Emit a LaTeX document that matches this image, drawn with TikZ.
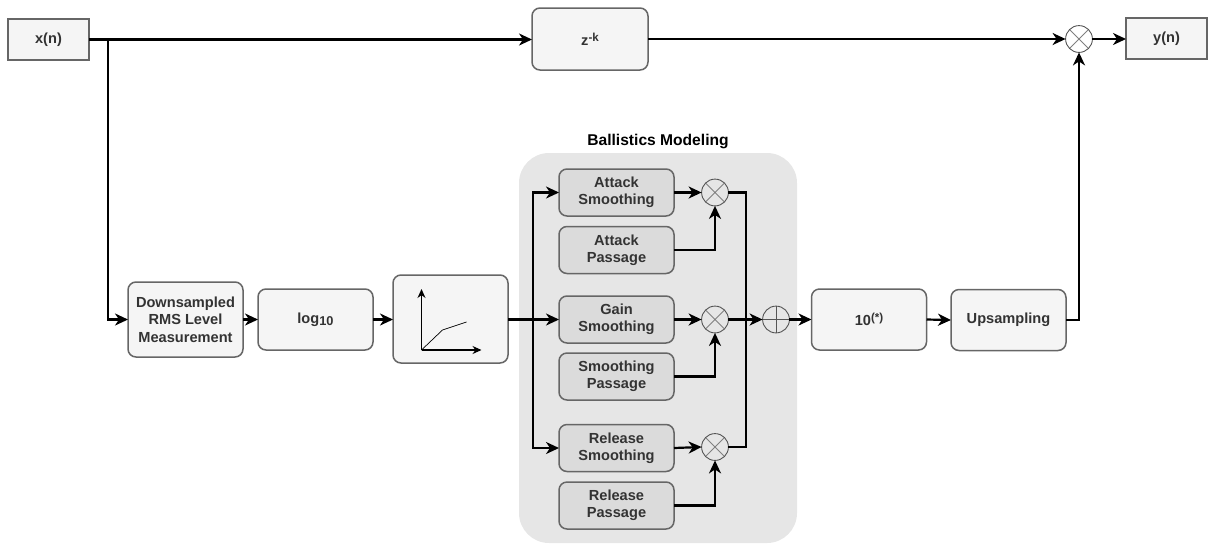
\documentclass[tikz,border=0pt]{standalone}
\usepackage{fontspec}
\setmainfont{Liberation Sans}
\usetikzlibrary{arrows.meta,calc}

\definecolor{boxline}{HTML}{666666}
\definecolor{boxfill}{HTML}{F5F5F5}
\definecolor{innerfill}{HTML}{DBDBDB}
\definecolor{panelfill}{HTML}{E6E6E6}
\definecolor{txt}{HTML}{333333}
\definecolor{opline}{HTML}{555555}

\newcommand{\lbl}{\fontsize{7.3}{8.7}\selectfont\bfseries}
\newcommand{\titlefont}{\fontsize{7.8}{9}\selectfont\bfseries}
\newcommand{\supsc}[1]{\raisebox{0.55ex}{\fontsize{5.8}{6}\selectfont #1}}
\newcommand{\subsc}[1]{\raisebox{-0.35ex}{\fontsize{6.4}{7}\selectfont #1}}

\tikzset{
  base/.style={draw=boxline, line width=0.75pt, fill=boxfill, text=txt,
    font=\lbl, align=center, inner sep=0pt, outer sep=0pt},
  iobox/.style={base, rectangle, minimum width=40.5pt, minimum height=20.5pt},
  blk/.style={base, rounded corners=4pt, minimum width=57.5pt, minimum height=30.5pt},
  innerblk/.style={blk, fill=innerfill, minimum height=23.5pt},
  op/.style={circle, draw=opline, line width=0.45pt, minimum size=13.4pt,
    inner sep=0pt, outer sep=0pt},
  mult/.style={op, path picture={
      \draw[opline!75, line width=0.4pt]
        ($(path picture bounding box.center)+(45:6.7pt)$) --
        ($(path picture bounding box.center)+(225:6.7pt)$)
        ($(path picture bounding box.center)+(135:6.7pt)$) --
        ($(path picture bounding box.center)+(315:6.7pt)$);}},
  summ/.style={op, path picture={
      \draw[opline, line width=0.5pt]
        ($(path picture bounding box.center)+(0:6.7pt)$) --
        ($(path picture bounding box.center)+(180:6.7pt)$)
        ($(path picture bounding box.center)+(90:6.7pt)$) --
        ($(path picture bounding box.center)+(270:6.7pt)$);}},
  wire/.style={line width=1.1pt, black},
  arr/.style={wire, -{Stealth[length=6.5pt,width=6pt,inset=2pt]}},
}

\begin{document}
\begin{tikzpicture}[x=0.5pt, y=-0.5pt]
  \useasboundingbox (0,0) rectangle (1209,547);

  % ballistics panel
  \fill[panelfill, rounded corners=15pt] (519,153) rectangle (797,543);
  \node[font=\titlefont, text=black] (title) at (658,141) {Ballistics Modeling};

  % top path
  \node[iobox] (xn) at (48.5,39.5) {x(n)};
  \node[blk, minimum width=58pt, minimum height=31pt] (zk) at (590,39) {z\supsc{-k}};
  \node[mult] (mtop) at (1079,39) {};
  \node[iobox] (yn) at (1166.5,38.5) {y(n)};

  % bottom chain
  \node[blk, minimum height=37.5pt] (ds) at (185.5,319.5) {Downsampled\\RMS Level\\Measurement};
  \node[blk] (lg) at (315.5,319.5) {log\subsc{10}};
  \node[blk, minimum height=44pt] (gr) at (450.5,319) {};
  \node[blk] (ten) at (869,319.5) {10\supsc{(*)}};
  \node[blk] (up) at (1008.5,320) {Upsampling};

  % transfer curve inside the static characteristic block
  \begin{scope}[shift={(gr.center)}]
    \draw[line width=0.6pt, -{Stealth[length=4.5pt,width=4pt]}] (-29,31) -- (-29,-30);
    \draw[line width=0.6pt, -{Stealth[length=4.5pt,width=4pt]}] (-29,31) -- (31,31);
    \draw[line width=0.35pt] (-29,31) -- (-8,11) -- (16,3);
  \end{scope}

  % ballistics blocks
  \node[innerblk] (as) at (616.5,192.5) {Attack\\Smoothing};
  \node[innerblk] (ap) at (616.5,250) {Attack\\Passage};
  \node[innerblk] (gs) at (616.5,319.5) {Gain\\Smoothing};
  \node[innerblk] (sp) at (616.5,376.5) {Smoothing\\Passage};
  \node[innerblk] (rs) at (616.5,448) {Release\\Smoothing};
  \node[innerblk] (rp) at (616.5,505.5) {Release\\Passage};

  \node[mult] (m1) at (715,192.5) {};
  \node[mult] (m2) at (715,319.5) {};
  \node[mult] (m3) at (715,447) {};
  \node[summ] (sm) at (776,319.5) {};

  \coordinate (br) at (108,39.5);
  \coordinate (split) at (533,319.5);
  \coordinate (join) at (746,319.5);

  % connectors: top path
  \draw[arr] (xn.east) -- (zk.west |- xn.east);
  \draw[arr] (br) |- (ds.west);
  \draw[arr] (zk.east) -- (mtop.west);
  \draw[arr] (mtop.east) -- (yn.west |- mtop.east);
  \draw[arr] (up.east) -| (mtop.south);

  % connectors: level chain
  \draw[arr] (ds.east) -- (lg.west);
  \draw[arr] (lg.east) -- (gr.west |- lg.east);
  \draw[arr] (gr.east |- gs.west) -- (gs.west);
  \draw[arr] (split) |- (as.west);
  \draw[arr] (split) |- (rs.west);

  % connectors: ballistics
  \draw[arr] (as.east) -- (m1.west);
  \draw[arr] (gs.east) -- (m2.west);
  \draw[arr] (rs.east) -- (m3.west);
  \draw[arr] (ap.east) -| (m1.south);
  \draw[arr] (sp.east) -| (m2.south);
  \draw[arr] (rp.east) -| (m3.south);
  \draw[wire] (m1.east) -| (join);
  \draw[wire] (m3.east) -| (join);
  \draw[arr] (m2.east) -- (sm.west);

  % connectors: output chain
  \draw[arr] (sm.east) -- (ten.west);
  \draw[arr] (ten.east) -- (up.west);
\end{tikzpicture}
\end{document}
